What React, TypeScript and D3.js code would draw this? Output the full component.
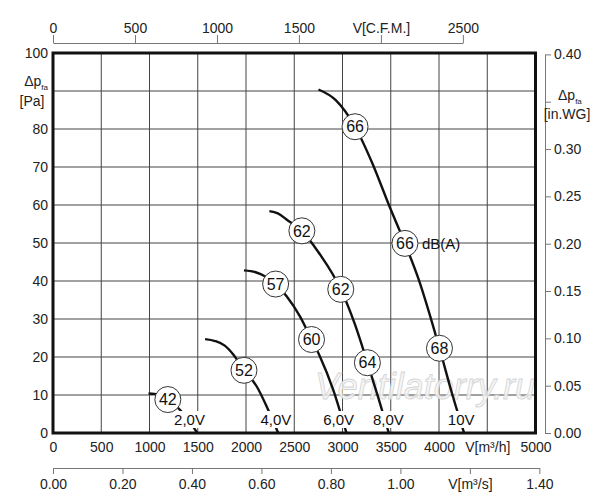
import { useRef, useEffect } from 'react'
import * as d3 from 'd3'

// Fan curves: [air flow m³/h, static pressure Pa]
const curve2V = [[990, 10.4], [1050, 10.3], [1120, 9.8], [1190, 8.8], [1320, 6.0], [1410, 3.2], [1495, 0]]
const curve4V = [[1576, 24.7], [1680, 24.2], [1780, 23.0], [1870, 20.6], [1979, 16.5], [2110, 12.3], [2214, 7.0], [2334, 0]]
const curve6V = [[1979, 42.8], [2100, 42.3], [2200, 41.2], [2307, 39.2], [2421, 36], [2559, 30.7], [2679, 24.6], [2765, 20.2], [2903, 11.4], [3041, 0]]
const curve8V = [[2242, 58.4], [2330, 57.8], [2430, 56], [2579, 53.2], [2758, 47.3], [2982, 37.8], [3130, 28.5], [3258, 18.5], [3370, 9.4], [3480, 0]]
const curve10V = [[2751, 90.4], [2930, 87.6], [3130, 80.6], [3309, 71], [3481, 60], [3647, 49.9], [3791, 40.3], [4005, 22.3], [4135, 10.4], [4260, 0]]

const voltageLabels = ['2,0V', '4,0V', '6,0V', '8,0V', '10V']
const voltageLabelFlow = [1415, 2310, 2960, 3475, 4230]

// Sound level markers: [flow, pressure, dB(A)]
const soundMarks = [
  [1190, 8.8, 42],
  [1979, 16.5, 52],
  [2307, 39.2, 57],
  [2679, 24.6, 60],
  [2579, 53.2, 62],
  [2982, 37.8, 62],
  [3258, 18.5, 64],
  [3130, 80.6, 66],
  [3647, 49.9, 66],
  [4005, 22.3, 68],
]

const flowTicks = [0, 500, 1000, 1500, 2000, 2500, 3000, 3500, 4000, 4500, 5000]
const pressureTicks = [0, 10, 20, 30, 40, 50, 60, 70, 80, 90, 100]
const inwgTicks = [0, 0.05, 0.1, 0.15, 0.2, 0.25, 0.3, 0.35, 0.4]
const cfmTicks = [0, 500, 1000, 1500, 2000, 2500]
const m3sTicks = [0, 0.2, 0.4, 0.6, 0.8, 1.0, 1.2, 1.4]

export default function App() {
  const ref = useRef<SVGSVGElement>(null)

  useEffect(() => {
    if (!ref.current) return
    const svg = d3.select(ref.current)
    svg.selectAll('*').remove()

    const font = 'Liberation Sans, Arial, sans-serif'
    const x = d3.scaleLinear().domain([0, 5000]).range([53, 535.5])
    const y = d3.scaleLinear().domain([0, 100]).range([433, 53])
    const yIn = d3.scaleLinear().domain([0, 0.4]).range([y(0), y(0.4 * 249.09)])
    const xCfm = d3.scaleLinear().domain([0, 2500]).range([x(0), x(2500 * 1.699)])
    const xM3s = d3.scaleLinear().domain([0, 1.4]).range([x(0), x(1.4 * 3600)])

    // grid
    const grid = svg.append('g').attr('stroke', '#444').attr('stroke-width', 1)
    flowTicks.slice(1, -1).forEach((v) => {
      grid.append('line').attr('x1', x(v)).attr('x2', x(v)).attr('y1', y(0)).attr('y2', y(100))
    })
    pressureTicks.slice(1, -1).forEach((v) => {
      grid.append('line').attr('x1', x(0)).attr('x2', x(5000)).attr('y1', y(v)).attr('y2', y(v))
    })

    // watermark
    svg
      .append('text')
      .attr('x', 425)
      .attr('y', 399)
      .attr('text-anchor', 'middle')
      .attr('font-family', font)
      .attr('font-style', 'italic')
      .attr('font-size', 36)
      .attr('fill', '#f5f5f5')
      .attr('fill-opacity', 0.85)
      .attr('stroke', '#d4d4d4')
      .attr('stroke-width', 0.8)
      .text('Ventilatorry.ru')

    // curves
    const line = d3
      .line<number[]>()
      .x((d) => x(d[0]))
      .y((d) => y(d[1]))
      .curve(d3.curveMonotoneX)
    const curves = [curve2V, curve4V, curve6V, curve8V, curve10V]
    curves.forEach((c) => {
      svg.append('path').attr('d', line(c)).attr('fill', 'none').attr('stroke', '#111').attr('stroke-width', 2.4)
    })

    // voltage labels with white backing
    voltageLabels.forEach((label, i) => {
      const g = svg.append('g')
      const t = g
        .append('text')
        .attr('x', x(voltageLabelFlow[i]))
        .attr('y', 425)
        .attr('text-anchor', 'middle')
        .attr('font-family', font)
        .attr('font-size', 15)
        .attr('fill', '#111')
        .text(label)
      const b = (t.node() as SVGTextElement).getBBox()
      g.insert('rect', 'text')
        .attr('x', b.x - 1)
        .attr('y', b.y)
        .attr('width', b.width + 2)
        .attr('height', b.height)
        .attr('fill', '#fff')
    })

    // plot border
    svg
      .append('rect')
      .attr('x', x(0))
      .attr('y', y(100))
      .attr('width', x(5000) - x(0))
      .attr('height', y(0) - y(100))
      .attr('fill', 'none')
      .attr('stroke', '#111')
      .attr('stroke-width', 3)

    // sound level circles
    soundMarks.forEach(([f, p, db]) => {
      svg.append('circle').attr('cx', x(f)).attr('cy', y(p)).attr('r', 13).attr('fill', '#fff').attr('stroke', '#333').attr('stroke-width', 1)
      svg
        .append('text')
        .attr('x', x(f))
        .attr('y', y(p))
        .attr('dy', '0.36em')
        .attr('text-anchor', 'middle')
        .attr('font-family', font)
        .attr('font-size', 16)
        .attr('fill', '#111')
        .text(db)
    })
    const last = soundMarks[8]
    svg
      .append('text')
      .attr('x', x(last[0]) + 17)
      .attr('y', y(last[1]))
      .attr('dy', '0.36em')
      .attr('font-family', font)
      .attr('font-size', 15)
      .attr('fill', '#111')
      .text('dB(A)')

    const styleAxis = (g: d3.Selection<SVGGElement, unknown, null, undefined>) => {
      g.attr('font-size', 14).attr('font-family', font).attr('color', '#777')
      g.selectAll('text').attr('fill', '#222')
    }

    // left axis (Pa)
    const left = svg
      .append('g')
      .attr('transform', `translate(${x(0)},0)`)
      .call(d3.axisLeft(y).tickValues(pressureTicks.filter((v) => v !== 90)).tickSize(0).tickPadding(5))
    left.select('.domain').remove()
    styleAxis(left)

    const dpL = svg.append('text').attr('x', 48).attr('y', 86).attr('text-anchor', 'end').attr('font-family', font).attr('font-size', 14).attr('fill', '#222')
    dpL.append('tspan').text('Δp')
    dpL.append('tspan').attr('font-size', 8).attr('dy', 4).text('fa')
    svg.append('text').attr('x', 32).attr('y', 106).attr('text-anchor', 'middle').attr('font-family', font).attr('font-size', 14).attr('fill', '#222').text('[Pa]')

    // right axis (in.WG)
    const right = svg
      .append('g')
      .attr('transform', 'translate(545,0)')
      .call(
        d3
          .axisRight(yIn)
          .tickValues(inwgTicks)
          .tickSize(6)
          .tickSizeOuter(0)
          .tickPadding(3)
          .tickFormat((d) => (Math.abs(+d - 0.35) < 1e-9 ? '' : d3.format('.2f')(+d)))
      )
    styleAxis(right)

    const dpR = svg.append('text').attr('x', 558).attr('y', 100).attr('font-family', font).attr('font-size', 14).attr('fill', '#222')
    dpR.append('tspan').text('Δp')
    dpR.append('tspan').attr('font-size', 8).attr('dy', 4).text('fa')
    svg.append('text').attr('x', 567).attr('y', 119).attr('text-anchor', 'middle').attr('font-family', font).attr('font-size', 14).attr('fill', '#222').text('[in.WG]')

    // bottom axis (m³/h)
    const bottom = svg
      .append('g')
      .attr('transform', `translate(0,${y(0)})`)
      .call(
        d3
          .axisBottom(x)
          .tickValues(flowTicks)
          .tickSize(0)
          .tickPadding(9)
          .tickFormat((d) => (+d === 4500 ? 'V[m³/h]' : String(d)))
      )
    bottom.select('.domain').remove()
    styleAxis(bottom)

    // top axis (CFM)
    const top = svg
      .append('g')
      .attr('transform', 'translate(0,43)')
      .call(
        d3
          .axisTop(xCfm)
          .tickValues(cfmTicks)
          .tickSize(8)
          .tickSizeOuter(0)
          .tickPadding(2)
          .tickFormat((d) => (+d === 2000 ? 'V[C.F.M.]' : String(d)))
      )
    styleAxis(top)

    // lower axis (m³/s)
    const lower = svg
      .append('g')
      .attr('transform', 'translate(0,468)')
      .call(
        d3
          .axisBottom(xM3s)
          .tickValues(m3sTicks)
          .tickSize(6)
          .tickSizeOuter(0)
          .tickPadding(5)
          .tickFormat((d) => (Math.abs(+d - 1.2) < 1e-9 ? 'V[m³/s]' : d3.format('.2f')(+d)))
      )
    styleAxis(lower)
  }, [])

  return <svg ref={ref} width={600} height={500} style={{ position: 'absolute', left: 0, top: 0, background: '#fff' }} />
}
